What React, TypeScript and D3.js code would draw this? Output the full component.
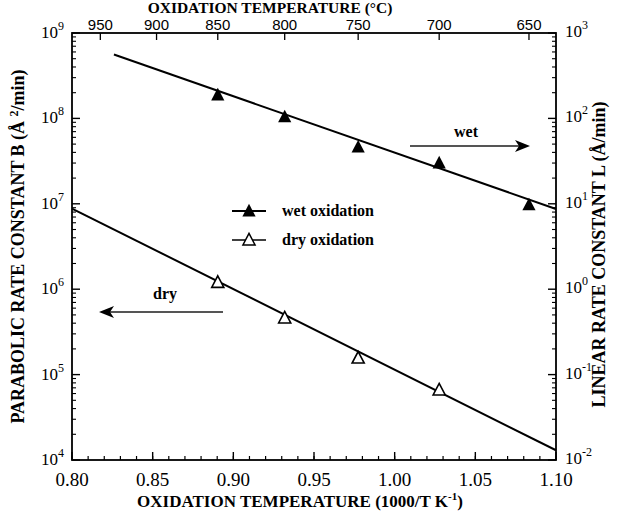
import React from "react";
import * as d3 from "d3";

// bottom axis (1000/T, K^-1) and top axis (deg C)
const invTTicks = [0.8, 0.85, 0.9, 0.95, 1.0, 1.05, 1.1];
const celsiusTicks = [950, 900, 850, 800, 750, 700, 650];
const leftDecades = [4, 5, 6, 7, 8, 9];
const rightDecades = [-2, -1, 0, 1, 2, 3];

// measured points
const wetTempC = [850, 800, 750, 700, 650];
const wetL = [188, 104, 46, 30, 9.7];
const dryTempC = [850, 800, 750, 700];
const dryB = [1.2e6, 4.6e5, 1.56e5, 6.6e4];

// fitted lines (end points)
const wetFitX = [0.826, 1.1];
const wetFitL = [560, 8.7];
const dryFitX = [0.8, 1.1];
const dryFitB = [8.8e6, 1.3e4];

const W = 617;
const H = 511;
const margin = { top: 33, right: 61, bottom: 51, left: 72 };

const toInv = (c: number) => 1000 / (c + 273.15);

export default function App() {
  const x = d3.scaleLinear().domain([0.8, 1.1]).range([margin.left, W - margin.right]);
  const yB = d3.scaleLog().domain([1e4, 1e9]).range([H - margin.bottom, margin.top]);
  const yL = d3.scaleLog().domain([1e-2, 1e3]).range([H - margin.bottom, margin.top]);

  const x0 = margin.left;
  const x1 = W - margin.right;
  const y0 = H - margin.bottom;
  const y1 = margin.top;

  const line = d3
    .line<[number, number]>()
    .x(d => d[0])
    .y(d => d[1]);

  const wetPath = line(wetFitX.map((v, i) => [x(v), yL(wetFitL[i])]));
  const dryPath = line(dryFitX.map((v, i) => [x(v), yB(dryFitB[i])]));

  const tri = (cx: number, cy: number, s: number) =>
    `M${cx},${cy - s * 0.6}L${cx + s * 0.55},${cy + s * 0.45}L${cx - s * 0.55},${cy + s * 0.45}Z`;

  // minor ticks for log axes
  const minorLog = (lo: number, hi: number) => {
    const out: number[] = [];
    for (let e = lo; e < hi; e++) {
      for (let m = 2; m <= 9; m++) out.push(m * Math.pow(10, e));
    }
    return out;
  };
  const minorX = d3.range(80, 111).map(v => v / 100);

  const serif = "'Liberation Serif', 'DejaVu Serif', 'Times New Roman', serif";
  const sans = "'Liberation Sans', 'DejaVu Sans', Arial, sans-serif";
  const sf = { fontFamily: serif };
  const ss = { fontFamily: sans };

  return (
    <svg width={W} height={H} style={{ position: "absolute", left: 0, top: 0, background: "#fff" }}>
      {/* frame */}
      <rect x={x0} y={y1} width={x1 - x0} height={y0 - y1} fill="none" stroke="#000" strokeWidth={1.8} />

      {/* bottom ticks */}
      {minorX.map(v => (
        <line key={"bx" + v} x1={x(v)} x2={x(v)} y1={y0} y2={y0 - 4} stroke="#000" strokeWidth={1.2} />
      ))}
      {invTTicks.map(v => (
        <g key={"bt" + v}>
          <line x1={x(v)} x2={x(v)} y1={y0} y2={y0 - 8} stroke="#000" strokeWidth={1.4} />
          <text x={x(v)} y={y0 + 26} textAnchor="middle" style={sf} fontSize={19}>
            {v.toFixed(2)}
          </text>
        </g>
      ))}

      {/* top ticks in deg C */}
      {celsiusTicks.map(c => (
        <g key={"tc" + c}>
          <line x1={x(toInv(c))} x2={x(toInv(c))} y1={y1} y2={y1 + 7} stroke="#000" strokeWidth={1.3} />
          <text x={x(toInv(c))} y={y1 - 3} textAnchor="middle" style={ss} fontSize={15}>
            {c}
          </text>
        </g>
      ))}

      {/* left axis */}
      {minorLog(4, 9).map(v => (
        <line key={"lm" + v} x1={x0} x2={x0 + 4} y1={yB(v)} y2={yB(v)} stroke="#000" strokeWidth={1.1} />
      ))}
      {leftDecades.map(e => (
        <g key={"ld" + e}>
          <line x1={x0} x2={x0 + 8} y1={yB(Math.pow(10, e))} y2={yB(Math.pow(10, e))} stroke="#000" strokeWidth={1.4} />
          <text x={x0 - 8} y={yB(Math.pow(10, e)) + 5} textAnchor="end" style={sf} fontSize={17}>
            10<tspan dy={-8} fontSize={12}>{e}</tspan>
          </text>
        </g>
      ))}

      {/* right axis */}
      {minorLog(-2, 3).map(v => (
        <line key={"rm" + v} x1={x1} x2={x1 - 4} y1={yL(v)} y2={yL(v)} stroke="#000" strokeWidth={1.1} />
      ))}
      {rightDecades.map(e => (
        <g key={"rd" + e}>
          <line x1={x1} x2={x1 - 8} y1={yL(Math.pow(10, e))} y2={yL(Math.pow(10, e))} stroke="#000" strokeWidth={1.4} />
          <text x={x1 + 9} y={yL(Math.pow(10, e)) + 4} textAnchor="start" style={sf} fontSize={17}>
            10<tspan dy={-8} fontSize={12}>{e}</tspan>
          </text>
        </g>
      ))}

      {/* fits */}
      <path d={wetPath || ""} fill="none" stroke="#000" strokeWidth={2} />
      <path d={dryPath || ""} fill="none" stroke="#000" strokeWidth={2} />

      {/* points */}
      {wetTempC.map((c, i) => (
        <path key={"w" + c} d={tri(x(toInv(c)), yL(wetL[i]), 12)} fill="#000" />
      ))}
      {dryTempC.map((c, i) => (
        <path key={"d" + c} d={tri(x(toInv(c)), yB(dryB[i]), 11)} fill="#fff" stroke="#000" strokeWidth={1.6} />
      ))}

      {/* legend */}
      <line x1={232} x2={266} y1={211} y2={211} stroke="#000" strokeWidth={2} />
      <path d={tri(249, 211, 12)} fill="#000" />
      <text x={282} y={216} style={sf} fontSize={16} fontWeight="bold">wet oxidation</text>
      <line x1={232} x2={266} y1={240} y2={240} stroke="#000" strokeWidth={1.5} />
      <path d={tri(249, 240, 11)} fill="#fff" stroke="#000" strokeWidth={1.5} />
      <text x={282} y={245} style={sf} fontSize={16} fontWeight="bold">dry oxidation</text>

      {/* arrows */}
      <line x1={410} x2={520} y1={146} y2={146} stroke="#555" strokeWidth={2} />
      <path d="M530,146 L515,140 L519,146 L515,152 Z" fill="#000" />
      <text x={466} y={137} textAnchor="middle" style={sf} fontSize={16} fontWeight="bold">wet</text>
      <line x1={108} x2={223} y1={312} y2={312} stroke="#555" strokeWidth={2} />
      <path d="M99,312 L114,306 L110,312 L114,318 Z" fill="#000" />
      <text x={165} y={299} textAnchor="middle" style={sf} fontSize={16} fontWeight="bold">dry</text>

      {/* titles */}
      <text x={270} y={13} textAnchor="middle" style={sf} fontSize={15.5} fontWeight="bold">
        OXIDATION TEMPERATURE (°C)
      </text>
      <text x={300} y={507} textAnchor="middle" style={sf} fontSize={17} fontWeight="bold">
        OXIDATION TEMPERATURE (1000/T K<tspan dy={-7} fontSize={11}>-1</tspan><tspan dy={7}>)</tspan>
      </text>
      <text
        transform={`translate(24,${(y0 + y1) / 2}) rotate(-90)`}
        textAnchor="middle"
        style={sf}
        fontSize={18}
        fontWeight="bold"
      >
        PARABOLIC RATE CONSTANT B (Å <tspan dy={-6} fontSize={12}>2</tspan><tspan dy={6}>/min)</tspan>
      </text>
      <text
        transform={`translate(605,${(y0 + y1) / 2 + 8}) rotate(-90)`}
        textAnchor="middle"
        style={sf}
        fontSize={18}
        fontWeight="bold"
      >
        LINEAR RATE CONSTANT L (Å/min)
      </text>
    </svg>
  );
}
